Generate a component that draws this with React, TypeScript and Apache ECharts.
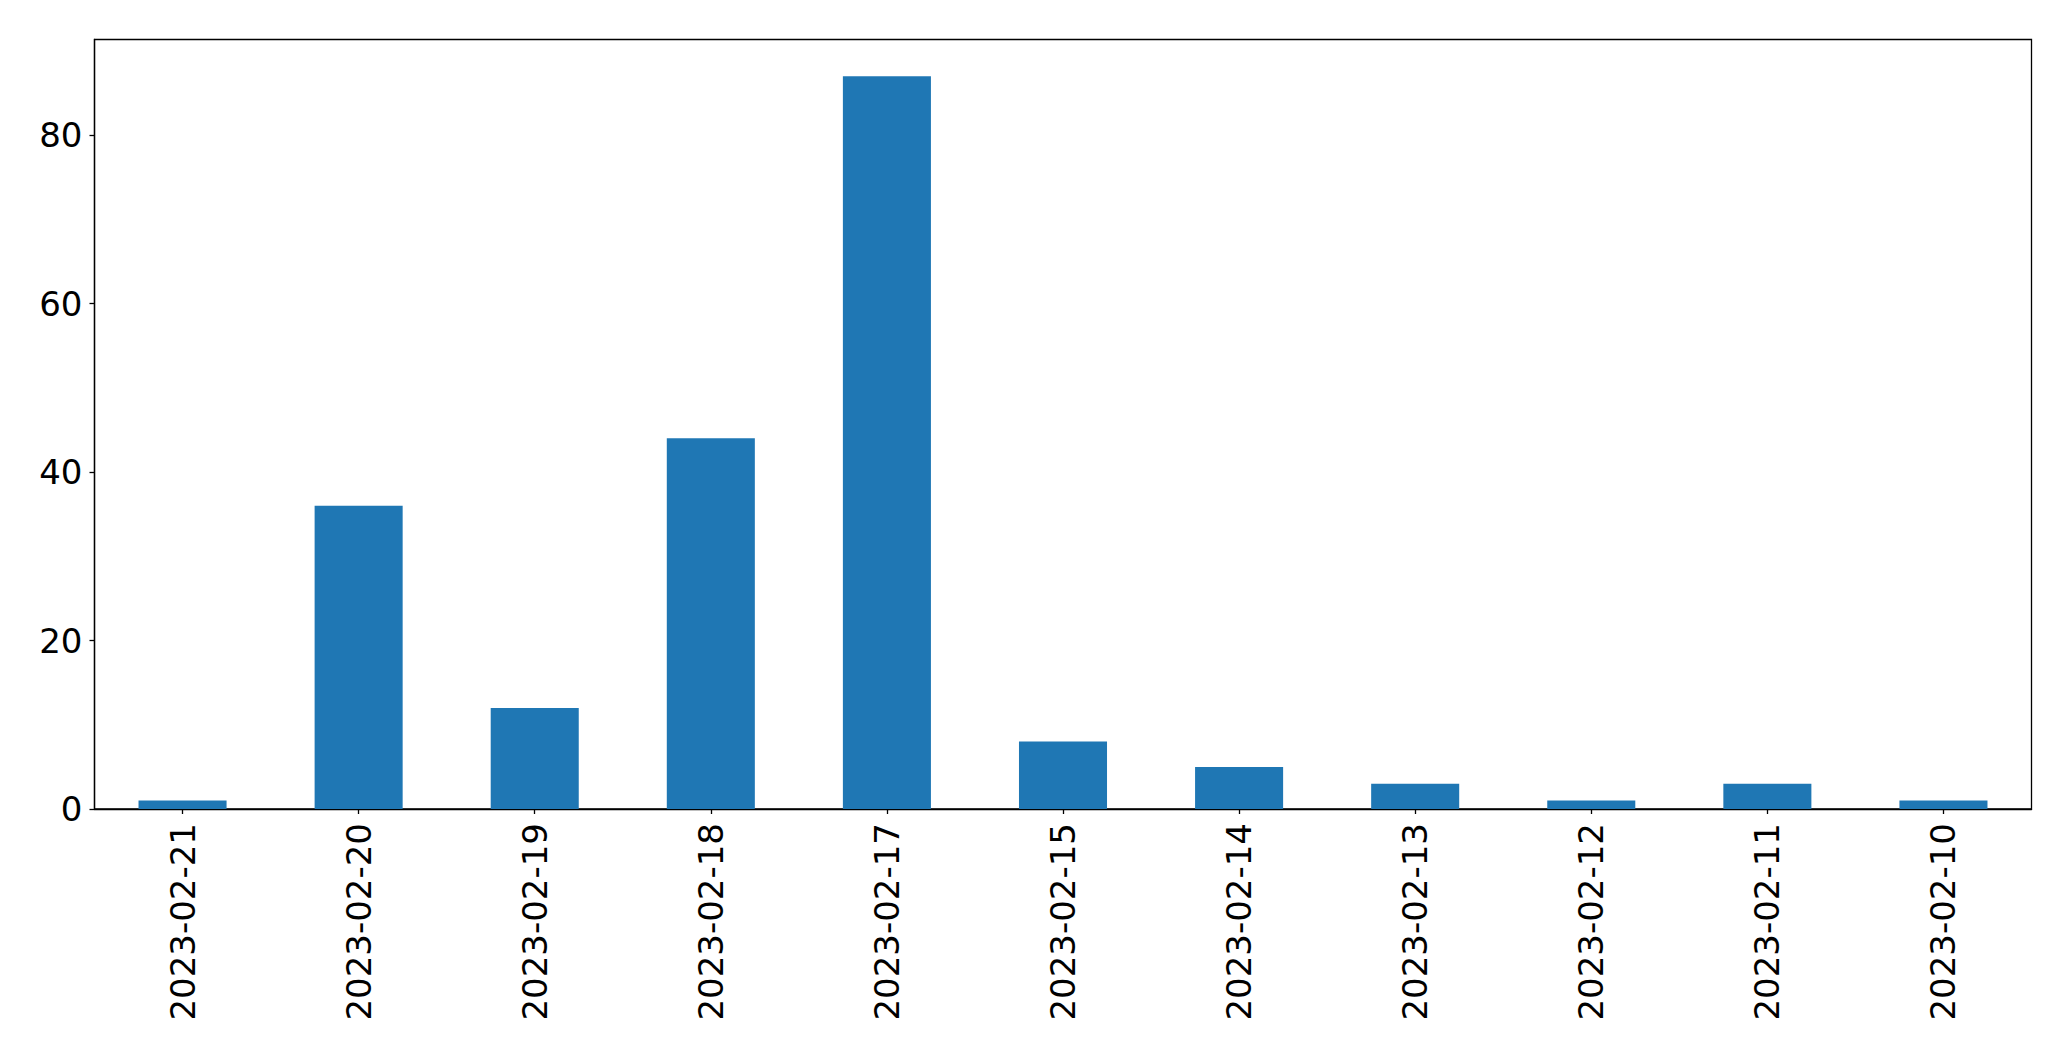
import React, { useEffect, useRef } from "react";
import * as echarts from "echarts";

const categories = [
  "2023-02-21", "2023-02-20", "2023-02-19", "2023-02-18", "2023-02-17", "2023-02-15",
  "2023-02-14", "2023-02-13", "2023-02-12", "2023-02-11", "2023-02-10",
];
const values = [1, 36, 12, 44, 87, 8, 5, 3, 1, 3, 1];
const yTicks = [0, 20, 40, 60, 80];

export default function App() {
  const ref = useRef<HTMLDivElement>(null);
  useEffect(() => {
    if (!ref.current) return;
    const chart = echarts.init(ref.current, undefined, { renderer: "svg" });
    const font = "DejaVu Sans";
    chart.setOption({
      animation: false,
      backgroundColor: "#ffffff",
      grid: {
        left: 94.5,
        top: 39.5,
        width: 1937,
        height: 769.5,
        show: true,
        borderColor: "#000000",
        borderWidth: 1.3,
        backgroundColor: "transparent",
      },
      xAxis: {
        type: "category",
        data: categories,
        axisLine: { show: true, lineStyle: { color: "#000", width: 1.3 } },
        axisTick: { show: true, alignWithLabel: true, length: 5, lineStyle: { color: "#000", width: 1.3 } },
        axisLabel: {
          rotate: 90,
          margin: 14,
          fontSize: 34,
          fontFamily: font,
          color: "#000",
          interval: 0,
        },
        splitLine: { show: false },
      },
      yAxis: {
        type: "value",
        min: 0,
        max: 91.35,
        interval: 20,
        axisLine: { show: true, lineStyle: { color: "#000", width: 1.3 } },
        axisTick: { show: true, length: 5, lineStyle: { color: "#000", width: 1.3 } },
        axisLabel: {
          margin: 12,
          fontSize: 34,
          fontFamily: font,
          color: "#000",
          showMaxLabel: false,
          formatter: (v: number) => (yTicks.includes(v) ? String(v) : ""),
        },
        splitLine: { show: false },
      },
      series: [
        {
          type: "bar",
          data: values,
          barCategoryGap: "50%",
          itemStyle: { color: "#1f77b4" },
        },
      ],
    });
    return () => chart.dispose();
  }, []);
  return (
    <div
      ref={ref}
      style={{ position: "fixed", left: 0, top: 0, width: 2071, height: 1061 }}
    />
  );
}
